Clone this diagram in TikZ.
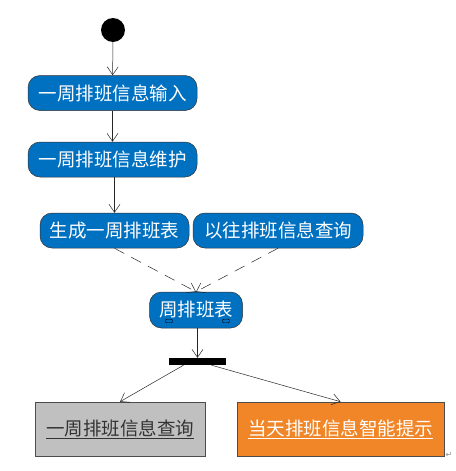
\documentclass[tikz,border=0pt]{standalone}
\usepackage{fontspec}
\newfontfamily\cjk{Noto Sans CJK SC}
\newfontfamily\symfont{DejaVu Sans}
\usepackage{xcolor}
\usepackage{tikz}
\usetikzlibrary{shapes,arrows.meta,calc}
\definecolor{actBlue}{RGB}{0,112,192}
\definecolor{boxGray}{RGB}{192,192,192}
\definecolor{boxOrange}{RGB}{240,134,40}
\tikzstyle{tsText} = [
    font=\cjk\fontsize{18.5}{19}\selectfont
]
\tikzstyle{tsActivity} = [
    rectangle,
    tsText,
    rounded corners=12pt,
    draw=black!80,
    fill=actBlue,
    text=white,
    line width=0.5pt,
    inner sep=0pt,
    minimum height=35pt]
\tikzstyle{tsBox} = [
    rectangle,
    tsText,
    draw=black!70,
    line width=0.6pt,
    inner sep=0pt,
    minimum height=54pt]
\tikzstyle{tsFlow} = [
    draw=black!85,
    line width=0.5pt,
    -{Straight Barb[length=8pt,width=11pt]}]

\begin{document}
\begin{tikzpicture}[x=1pt, y=-1pt]

    \useasboundingbox (0,0) rectangle (455,471);

    \node[circle, fill=black, minimum size=24pt, inner sep=0pt] (start) at (113,30) {};

    \node[tsActivity, minimum width=169pt] (input) at (112.5,93) {一周排班信息输入};
    \node[tsActivity, minimum width=169pt] (maint) at (112.5,159.5) {一周排班信息维护};
    \node[tsActivity, minimum width=149pt] (gen) at (114.5,230.5) {生成一周排班表};
    \node[tsActivity, minimum width=170pt] (hist) at (278,230.5) {以往排班信息查询};
    \node[tsActivity, minimum width=93pt, minimum height=36pt] (week) at (196,310) {周排班表};

    % pins
    \node[rectangle, rounded corners=1pt, draw=black, fill=actBlue,
          minimum width=7pt, minimum height=3.5pt, inner sep=0pt] (pinL) at (169,321) {};
    \node[rectangle, rounded corners=1pt, draw=black, fill=actBlue,
          minimum width=7pt, minimum height=3.5pt, inner sep=0pt] (pinR) at (226,321) {};

    \node[rectangle, fill=black, minimum width=57pt, minimum height=7pt, inner sep=0pt] (bar) at (197.5,361.5) {};

    \node[tsBox, minimum width=170pt, fill=boxGray, text=black!80] (query) at (120,429) {\underline{一周排班信息查询}};
    \node[tsBox, minimum width=207pt, fill=boxOrange, text=white] (hint) at (340.5,429) {\underline{当天排班信息智能提示}};

    \node[text=black!45, font=\symfont\fontsize{8}{8}\selectfont, inner sep=0pt] (mark) at (449,455) {↵};

    \draw[tsFlow] (start) -- (input);
    \draw[tsFlow] (input) -- (maint);
    \draw[tsFlow] (maint.south -| gen.north) -- (gen.north);
    \draw[tsFlow, dash pattern=on 11pt off 8pt] (gen.south) -- (week.north);
    \draw[tsFlow, dash pattern=on 11pt off 8pt] (hist.south) -- (week.north);
    \draw[tsFlow] (week.south -| bar.north) -- (bar.north);
    \draw[tsFlow] ([xshift=-14pt]bar.south) -- (query.north);
    \draw[tsFlow] ([xshift=14pt]bar.south) -- (hint.north);

\end{tikzpicture}
\end{document}
